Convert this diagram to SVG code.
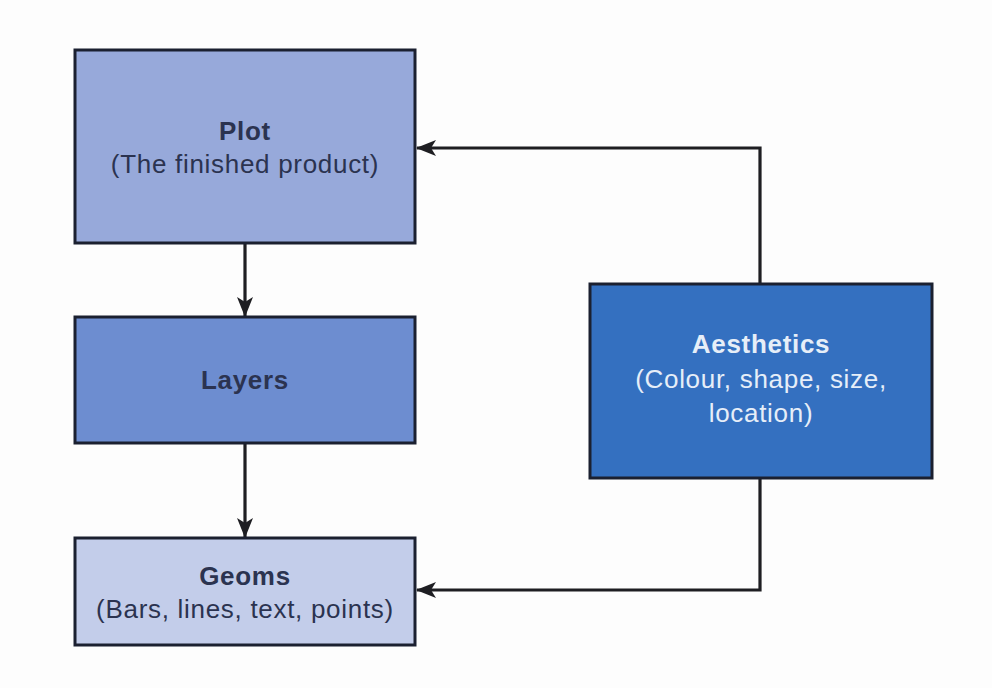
<svg xmlns="http://www.w3.org/2000/svg" width="992" height="688" viewBox="0 0 992 688">
<style>
.box{stroke:#1b2030;stroke-width:3}
.t{font-family:"Liberation Sans",Arial,sans-serif;font-size:26px;text-anchor:middle;letter-spacing:0.7px}
.b{font-weight:bold}
.dk{fill:#2b3350}
.lt{fill:#e6eef8}
.c{fill:none;stroke:#1e1e22;stroke-width:3.2}
</style>
<defs>
<marker id="ah" viewBox="0 0 20 16" refX="19" refY="8" markerWidth="20" markerHeight="16" markerUnits="userSpaceOnUse" orient="auto">
<path d="M0,0 L20,8 L0,16 L5,8 z" fill="#1e1e22"/>
</marker>
</defs>
<rect width="992" height="688" fill="#fdfdfd"/>
<g id="connectors">
<line class="c" x1="245" y1="244" x2="245" y2="316" marker-end="url(#ah)"/>
<line class="c" x1="245" y1="444" x2="245" y2="537" marker-end="url(#ah)"/>
<polyline class="c" points="760,284 760,148 417,148" marker-end="url(#ah)"/>
<polyline class="c" points="760,478 760,590 417,590" marker-end="url(#ah)"/>
</g>
<g id="plot">
<rect class="box" x="75" y="50" width="340" height="193" fill="#97a9da"/>
<text class="t b dk" x="245" y="140">Plot</text>
<text class="t dk" x="245" y="173">(The finished product)</text>
</g>
<g id="layers">
<rect class="box" x="75" y="317" width="340" height="126" fill="#6d8dd0"/>
<text class="t b dk" x="245" y="389">Layers</text>
</g>
<g id="geoms">
<rect class="box" x="75" y="538" width="340" height="107" fill="#c3cdea"/>
<text class="t b dk" x="245" y="585">Geoms</text>
<text class="t dk" x="245" y="618">(Bars, lines, text, points)</text>
</g>
<g id="aesthetics">
<rect class="box" x="590" y="284" width="342" height="194" fill="#3470c0"/>
<text class="t b lt" x="761" y="353">Aesthetics</text>
<text class="t lt" x="761" y="388">(Colour, shape, size,</text>
<text class="t lt" x="761" y="422">location)</text>
</g>
</svg>
